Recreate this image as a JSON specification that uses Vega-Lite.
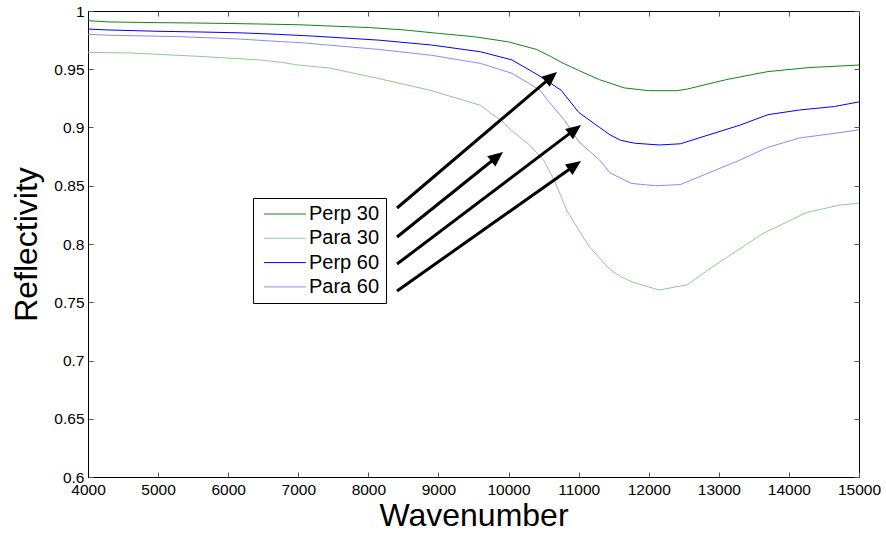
{
  "$schema": "https://vega.github.io/schema/vega-lite/v6.json",
  "width": 771,
  "height": 466,
  "autosize": "none",
  "padding": {"left": 88, "top": 11, "right": 27, "bottom": 56},
  "background": "white",
  "config": {
    "view": {"stroke": "black", "strokeWidth": 1},
    "font": "Liberation Sans",
    "axis": {
      "labelFont": "Liberation Sans",
      "titleFont": "Liberation Sans",
      "labelColor": "black",
      "titleColor": "black",
      "domainColor": "black",
      "tickColor": "#555555",
      "grid": false
    }
  },
  "datasets": {
    "arrows": [
      {"xs": 8409, "ys": 0.8309, "xb": 10562, "yb": 0.9409, "xt": 10691, "yt": 0.9476, "a": 49.6},
      {"xs": 8409, "ys": 0.8060, "xb": 9787, "yb": 0.8725, "xt": 9921, "yt": 0.8790, "a": 51.3},
      {"xs": 8409, "ys": 0.7828, "xb": 10897, "yb": 0.8960, "xt": 11034, "yt": 0.9021, "a": 52.9},
      {"xs": 8409, "ys": 0.7597, "xb": 10894, "yb": 0.8653, "xt": 11034, "yt": 0.8712, "a": 54.8}
    ]
  },
  "layer": [
    {
      "data": {"values": [
        {"w": 4000, "r": 0.9917, "s": "Perp 30"},
        {"w": 4300, "r": 0.9906, "s": "Perp 30"},
        {"w": 5000, "r": 0.9900, "s": "Perp 30"},
        {"w": 5500, "r": 0.9897, "s": "Perp 30"},
        {"w": 6000, "r": 0.9893, "s": "Perp 30"},
        {"w": 6500, "r": 0.9888, "s": "Perp 30"},
        {"w": 7000, "r": 0.9882, "s": "Perp 30"},
        {"w": 7500, "r": 0.9870, "s": "Perp 30"},
        {"w": 8000, "r": 0.9858, "s": "Perp 30"},
        {"w": 8500, "r": 0.9838, "s": "Perp 30"},
        {"w": 9000, "r": 0.9808, "s": "Perp 30"},
        {"w": 9500, "r": 0.9780, "s": "Perp 30"},
        {"w": 10000, "r": 0.9735, "s": "Perp 30"},
        {"w": 10400, "r": 0.9670, "s": "Perp 30"},
        {"w": 10600, "r": 0.9610, "s": "Perp 30"},
        {"w": 10750, "r": 0.9560, "s": "Perp 30"},
        {"w": 11000, "r": 0.9490, "s": "Perp 30"},
        {"w": 11300, "r": 0.9410, "s": "Perp 30"},
        {"w": 11650, "r": 0.9340, "s": "Perp 30"},
        {"w": 12000, "r": 0.9316, "s": "Perp 30"},
        {"w": 12400, "r": 0.9316, "s": "Perp 30"},
        {"w": 12550, "r": 0.9330, "s": "Perp 30"},
        {"w": 13100, "r": 0.9410, "s": "Perp 30"},
        {"w": 13700, "r": 0.9480, "s": "Perp 30"},
        {"w": 14300, "r": 0.9515, "s": "Perp 30"},
        {"w": 15000, "r": 0.9536, "s": "Perp 30"},

        {"w": 4000, "r": 0.9645, "s": "Para 30"},
        {"w": 4600, "r": 0.9640, "s": "Para 30"},
        {"w": 5600, "r": 0.9610, "s": "Para 30"},
        {"w": 6450, "r": 0.9580, "s": "Para 30"},
        {"w": 6750, "r": 0.9560, "s": "Para 30"},
        {"w": 7000, "r": 0.9536, "s": "Para 30"},
        {"w": 7450, "r": 0.9510, "s": "Para 30"},
        {"w": 8150, "r": 0.9420, "s": "Para 30"},
        {"w": 8880, "r": 0.9320, "s": "Para 30"},
        {"w": 9600, "r": 0.9190, "s": "Para 30"},
        {"w": 9750, "r": 0.9120, "s": "Para 30"},
        {"w": 9900, "r": 0.9060, "s": "Para 30"},
        {"w": 10050, "r": 0.8970, "s": "Para 30"},
        {"w": 10300, "r": 0.8850, "s": "Para 30"},
        {"w": 10500, "r": 0.8720, "s": "Para 30"},
        {"w": 10650, "r": 0.8550, "s": "Para 30"},
        {"w": 10830, "r": 0.8290, "s": "Para 30"},
        {"w": 11000, "r": 0.8120, "s": "Para 30"},
        {"w": 11160, "r": 0.7970, "s": "Para 30"},
        {"w": 11450, "r": 0.7780, "s": "Para 30"},
        {"w": 11600, "r": 0.7720, "s": "Para 30"},
        {"w": 11780, "r": 0.7670, "s": "Para 30"},
        {"w": 12150, "r": 0.7605, "s": "Para 30"},
        {"w": 12550, "r": 0.7650, "s": "Para 30"},
        {"w": 12900, "r": 0.7800, "s": "Para 30"},
        {"w": 13630, "r": 0.8090, "s": "Para 30"},
        {"w": 14250, "r": 0.8270, "s": "Para 30"},
        {"w": 14730, "r": 0.8335, "s": "Para 30"},
        {"w": 15000, "r": 0.8350, "s": "Para 30"},

        {"w": 4000, "r": 0.9845, "s": "Perp 60"},
        {"w": 4300, "r": 0.9837, "s": "Perp 60"},
        {"w": 5000, "r": 0.9826, "s": "Perp 60"},
        {"w": 5600, "r": 0.9820, "s": "Perp 60"},
        {"w": 6200, "r": 0.9812, "s": "Perp 60"},
        {"w": 6700, "r": 0.9800, "s": "Perp 60"},
        {"w": 7200, "r": 0.9785, "s": "Perp 60"},
        {"w": 8150, "r": 0.9750, "s": "Perp 60"},
        {"w": 8900, "r": 0.9708, "s": "Perp 60"},
        {"w": 9600, "r": 0.9650, "s": "Perp 60"},
        {"w": 10050, "r": 0.9580, "s": "Perp 60"},
        {"w": 10450, "r": 0.9440, "s": "Perp 60"},
        {"w": 10750, "r": 0.9320, "s": "Perp 60"},
        {"w": 11000, "r": 0.9130, "s": "Perp 60"},
        {"w": 11300, "r": 0.9000, "s": "Perp 60"},
        {"w": 11450, "r": 0.8936, "s": "Perp 60"},
        {"w": 11600, "r": 0.8890, "s": "Perp 60"},
        {"w": 11800, "r": 0.8865, "s": "Perp 60"},
        {"w": 12150, "r": 0.8850, "s": "Perp 60"},
        {"w": 12450, "r": 0.8860, "s": "Perp 60"},
        {"w": 13300, "r": 0.9020, "s": "Perp 60"},
        {"w": 13700, "r": 0.9110, "s": "Perp 60"},
        {"w": 14150, "r": 0.9150, "s": "Perp 60"},
        {"w": 14650, "r": 0.9180, "s": "Perp 60"},
        {"w": 15000, "r": 0.9220, "s": "Perp 60"},

        {"w": 4000, "r": 0.9800, "s": "Para 60"},
        {"w": 4300, "r": 0.9792, "s": "Para 60"},
        {"w": 5300, "r": 0.9780, "s": "Para 60"},
        {"w": 6150, "r": 0.9760, "s": "Para 60"},
        {"w": 6750, "r": 0.9737, "s": "Para 60"},
        {"w": 7000, "r": 0.9730, "s": "Para 60"},
        {"w": 8150, "r": 0.9670, "s": "Para 60"},
        {"w": 8900, "r": 0.9620, "s": "Para 60"},
        {"w": 9600, "r": 0.9550, "s": "Para 60"},
        {"w": 10050, "r": 0.9465, "s": "Para 60"},
        {"w": 10450, "r": 0.9320, "s": "Para 60"},
        {"w": 10550, "r": 0.9240, "s": "Para 60"},
        {"w": 10800, "r": 0.9060, "s": "Para 60"},
        {"w": 11000, "r": 0.8880, "s": "Para 60"},
        {"w": 11300, "r": 0.8720, "s": "Para 60"},
        {"w": 11450, "r": 0.8610, "s": "Para 60"},
        {"w": 11750, "r": 0.8520, "s": "Para 60"},
        {"w": 12100, "r": 0.8500, "s": "Para 60"},
        {"w": 12450, "r": 0.8510, "s": "Para 60"},
        {"w": 13300, "r": 0.8720, "s": "Para 60"},
        {"w": 13700, "r": 0.8830, "s": "Para 60"},
        {"w": 14150, "r": 0.8910, "s": "Para 60"},
        {"w": 14650, "r": 0.8950, "s": "Para 60"},
        {"w": 15000, "r": 0.8980, "s": "Para 60"}
      ]},
      "mark": {"type": "line", "strokeWidth": 1, "clip": true},
      "encoding": {
        "x": {
          "field": "w", "type": "quantitative",
          "scale": {"domain": [4000, 15000], "nice": false, "zero": false},
          "axis": {
            "orient": "bottom", "title": "Wavenumber",
            "values": [4000, 5000, 6000, 7000, 8000, 9000, 10000, 11000, 12000, 13000, 14000, 15000],
            "format": "d", "labelFontSize": 15.5, "tickSize": -5, "labelPadding": 10,
            "labelFlush": false, "labelOverlap": false,
            "titleFontSize": 32, "titleFontWeight": "normal", "titlePadding": 3
          }
        },
        "y": {
          "field": "r", "type": "quantitative",
          "scale": {"domain": [0.6, 1], "nice": false, "zero": false},
          "axis": {
            "orient": "left", "title": "Reflectivity",
            "values": [0.6, 0.65, 0.7, 0.75, 0.8, 0.85, 0.9, 0.95, 1],
            "format": "~g", "labelFontSize": 15.5, "tickSize": -5, "labelPadding": 9,
            "labelFlush": false, "labelOverlap": false,
            "titleFontSize": 32, "titleFontWeight": "normal", "titlePadding": 10
          }
        },
        "color": {
          "field": "s", "type": "nominal",
          "scale": {
            "domain": ["Perp 30", "Para 30", "Perp 60", "Para 60"],
            "range": ["#148414", "#8fca8f", "#0000ff", "#8a8aff"]
          },
          "legend": {
            "title": null, "orient": "none", "legendX": 165, "legendY": 187,
            "symbolType": "M-3,0L3,0", "symbolSize": 196, "symbolStrokeWidth": 1,
            "symbolOffset": 16,
            "labelFontSize": 20, "labelFont": "Liberation Sans", "labelColor": "black",
            "labelOffset": 14, "rowPadding": 4.3, "padding": 6,
            "fillColor": "white", "strokeColor": "black"
          }
        }
      }
    },
    {
      "data": {"name": "arrows"},
      "mark": {"type": "rule", "strokeWidth": 3, "color": "black"},
      "encoding": {
        "x": {
          "field": "xs", "type": "quantitative",
          "scale": {"domain": [4000, 15000], "nice": false, "zero": false},
          "axis": {"orient": "top", "title": null, "labels": false, "domain": false,
                   "tickSize": -5,
                   "values": [4000, 5000, 6000, 7000, 8000, 9000, 10000, 11000, 12000, 13000, 14000, 15000]}
        },
        "y": {
          "field": "ys", "type": "quantitative",
          "scale": {"domain": [0.6, 1], "nice": false, "zero": false},
          "axis": {"orient": "right", "title": null, "labels": false, "domain": false,
                   "tickSize": -5,
                   "values": [0.6, 0.65, 0.7, 0.75, 0.8, 0.85, 0.9, 0.95, 1]}
        },
        "x2": {"field": "xb"},
        "y2": {"field": "yb"}
      }
    },
    {
      "data": {"name": "arrows"},
      "mark": {"type": "point", "shape": "M0,0L0.65,1.5L-0.65,1.5Z", "filled": true, "color": "black", "opacity": 1, "size": 400, "strokeWidth": 0},
      "encoding": {
        "x": {"field": "xt", "type": "quantitative", "axis": null},
        "y": {"field": "yt", "type": "quantitative", "axis": null},
        "angle": {"field": "a", "type": "quantitative", "scale": null}
      }
    }
  ],
  "resolve": {"axis": {"x": "independent", "y": "independent"}}
}
